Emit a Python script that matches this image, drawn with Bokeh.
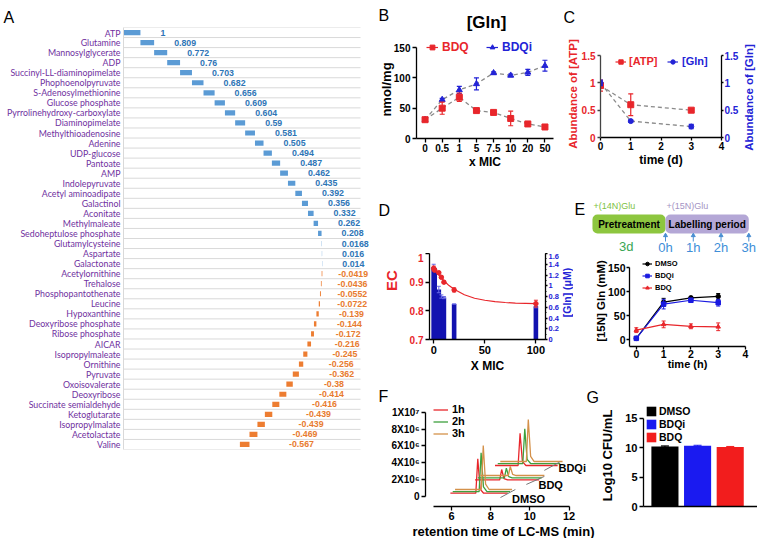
import math
import numpy as np
from bokeh.plotting import figure
from bokeh.models import (Range1d, FixedTicker, SingleIntervalTicker, LinearAxis, Label,
                          Legend, LegendItem)
from bokeh.layouts import row, column
from bokeh.embed import file_html
from bokeh.resources import INLINE
from bokeh.core.properties import value

FONT = "Liberation Sans"
RED = "#E8262B"
BLUE = "#2323D6"
GREY = "#8A8A8A"

# ---------------- data ----------------
a_names = ["ATP", "Glutamine", "Mannosylglycerate", "ADP", "Succinyl-LL-diaminopimelate",
           "Phophoenolpyruvate", "S-Adenosylmethionine", "Glucose phosphate",
           "Pyrrolinehydroxy-carboxylate", "Diaminopimelate", "Methylthioadenosine", "Adenine",
           "UDP-glucose", "Pantoate", "AMP", "Indolepyruvate", "Acetyl aminoadipate", "Galactinol",
           "Aconitate", "Methylmaleate", "Sedoheptulose phosphate", "Glutamylcysteine", "Aspartate",
           "Galactonate", "Acetylornithine", "Trehalose", "Phosphopantothenate", "Leucine",
           "Hypoxanthine", "Deoxyribose phosphate", "Ribose phosphate", "AICAR", "Isopropylmaleate",
           "Ornithine", "Pyruvate", "Oxoisovalerate", "Deoxyribose", "Succinate semialdehyde",
           "Ketoglutarate", "Isopropylmalate", "Acetolactate", "Valine"]
a_values = [1, 0.809, 0.772, 0.76, 0.703, 0.682, 0.656, 0.609, 0.604, 0.59, 0.581, 0.505, 0.494,
            0.487, 0.462, 0.435, 0.392, 0.356, 0.332, 0.262, 0.208, 0.0168, 0.016, 0.014, -0.0419,
            -0.0436, -0.0552, -0.0722, -0.139, -0.144, -0.172, -0.216, -0.245, -0.256, -0.362,
            -0.38, -0.414, -0.416, -0.439, -0.439, -0.469, -0.567]

b_xlabels = ["0", "0.5", "1", "5", "7.5", "10", "20", "50"]
b_bdq = [31, 50, 68, 46, 43, 33, 24, 19]
b_bdq_err = [2, 10, 7, 2, 3, 12, 1, 1]
b_bdqi = [31, 64, 80, 90, 108, 104, 109, 120]
b_bdqi_err = [2, 2, 6, 10, 2, 2, 5, 9]

c_time = [0, 1, 3]
c_atp = [0.95, 0.6, 0.5]
c_atp_err = [0.1, 0.2, 0.02]
c_gln = [1.0, 0.3, 0.2]
c_gln_err = [0.05, 0.02, 0.04]

d_bar_x = [0, 0.5, 1, 5, 7.5, 10, 20, 100]
d_bar_gln = [1.35, 1.33, 1.3, 0.93, 0.8, 0.78, 0.66, 0.62]
d_bar_err = [0.05, 0.0, 0.0, 0.06, 0.03, 0.02, 0.0, 0.03]
d_ec_x = [0, 1, 5, 7.5, 10, 20, 100]
d_ec = [0.948, 0.942, 0.933, 0.917, 0.9, 0.873, 0.825]
d_ec_err = [0.008, 0.004, 0.004, 0.004, 0.004, 0.007, 0.012]
d_fit_x = [0, 5, 10, 15, 20, 30, 40, 50, 60, 70, 80, 90, 100]
d_fit_ec = [0.948, 0.925, 0.905, 0.888, 0.875, 0.856, 0.844, 0.837, 0.832, 0.829, 0.827, 0.826, 0.825]

e_phases = ["Pretreatment", "Labelling period"]
e_phase_start = [-2.63, 0]
e_phase_end = [0, 3]
e_tracers = ["+(14N)Glu", "+(15N)Glu"]
e_timepoints = [0, 1, 2, 3]
e_tp_labels = ["0h", "1h", "2h", "3h"]
e_time = [0, 1, 2, 3]
e_dmso = [3, 78, 87, 90]
e_dmso_err = [1, 8, 3, 6]
e_bdqi = [3, 74, 82, 77]
e_bdqi_err = [1, 10, 4, 7]
e_bdq = [20, 32, 28, 27]
e_bdq_err = [5, 7, 5, 8]

f_groups = ["DMSO", "BDQ", "BDQi"]
f_times = ["1h", "2h", "3h"]
f_start = [[5.94, 6.06, 6.18], [7.20, 7.34, 7.47], [8.22, 8.36, 8.49]]
f_end = [[8.87, 8.99, 9.09], [10.48, 10.60, 10.74], [11.42, 11.55, 11.67]]
f_base = [[0.39, 0.59, 0.83], [1.98, 2.22, 2.49], [3.68, 3.91, 4.15]]      # x1e6
f_peak_x = [[7.34, 7.51, 7.62], [8.56, 8.80, 9.00], [9.50, 9.74, 9.92]]
f_peak_y = [[4.47, 5.18, 6.05], [3.20, 3.36, 3.56], [7.51, 8.03, 9.13]]    # x1e6
f_axis_x0 = [8.50, 9.82, 10.74]
f_axis_y0 = [-0.12, 1.43, 3.10]
f_axis_x1 = [9.26, 10.74, 11.52]
f_axis_y1 = [0.83, 2.38, 4.08]
f_label_x = [9.09, 10.44, 11.46]
f_label_y = [-0.30, 1.37, 3.39]

g_groups = ["DMSO", "BDQi", "BDQ"]
g_cfu = [10.2, 10.3, 10.1]
g_err = [0.1, 0.1, 0.1]


# ---------------- helpers ----------------
def plot_fig(x0, x1, y0, y1, frame, xr, yr):
    L, R, T, B = frame
    p = figure(width=x1 - x0, height=y1 - y0, x_range=Range1d(*xr), y_range=Range1d(*yr),
               output_backend="svg", toolbar_location=None, frame_align=False,
               min_border_left=L - x0, min_border_right=x1 - R,
               min_border_top=T - y0, min_border_bottom=y1 - B)
    p.outline_line_color = None
    p.background_fill_color = "white"
    p.border_fill_color = "white"
    for g in p.grid:
        g.visible = False
    return p


def head_fig(x0, x1, y0, y1, xr=None):
    p = figure(width=x1 - x0, height=y1 - y0,
               x_range=Range1d(*(xr if xr else (x0, x1))), y_range=Range1d(y1, y0),
               x_axis_type=None, y_axis_type=None, output_backend="svg",
               toolbar_location=None, frame_align=False, min_border_left=0, min_border_right=0,
               min_border_top=0, min_border_bottom=0)
    p.outline_line_color = None
    p.background_fill_color = "white"
    p.border_fill_color = "white"
    return p


def lab(p, x, y, text, size, color="black", bold=True, align="center", baseline="middle",
        angle=0.0, font=FONT):
    p.add_layout(Label(x=x, y=y, text=text, text_font=font, text_font_size=f"{size}px",
                       text_font_style="bold" if bold else "normal", text_color=color,
                       text_align=align, text_baseline=baseline, angle=angle))


def letter(p, x, y, text):
    lab(p, x, y, text, 16, bold=False, align="left", baseline="alphabetic")


def style_axis(ax, size=10, color="black", tick_out=4, standoff=2, line_color="black"):
    ax.axis_line_width = 1.3
    ax.axis_line_color = line_color
    ax.major_tick_line_width = 1.3
    ax.major_tick_line_color = line_color
    ax.major_tick_in = 0
    ax.major_tick_out = tick_out
    ax.minor_tick_line_color = None
    ax.minor_tick_in = 0
    ax.minor_tick_out = 0
    ax.major_label_text_font = FONT
    ax.major_label_text_font_style = "bold"
    ax.major_label_text_font_size = f"{size}px"
    ax.major_label_text_color = color
    ax.major_label_standoff = standoff


def axis_title(ax, text, size, color="black", standoff=0):
    ax.axis_label = text
    ax.axis_label_text_font = FONT
    ax.axis_label_text_font_style = "bold"
    ax.axis_label_text_font_size = f"{size}px"
    ax.axis_label_text_color = color
    ax.axis_label_standoff = standoff


def errbars(p, xs, ys, es, color, cap=5, width=1.2, **kw):
    xs = np.asarray(xs, float)
    ys = np.asarray(ys, float)
    es = np.asarray(es, float)
    r = p.segment(x0=xs, y0=ys - es, x1=xs, y1=ys + es, line_color=color, line_width=width, **kw)
    p.scatter(np.concatenate([xs, xs]), np.concatenate([ys - es, ys + es]), marker="dash",
              size=cap, line_color=color, line_width=width, **kw)
    return r


def legend(p, items, loc, size, color="black", gw=12, gh=10, spacing=0, standoff=4,
           orientation="vertical"):
    leg = Legend(items=[LegendItem(label=l, renderers=r) for l, r in items], location=loc,
                 orientation=orientation, padding=0, margin=0, spacing=spacing,
                 glyph_width=gw, glyph_height=gh, label_standoff=standoff,
                 label_height=gh, label_width=5, label_text_font=FONT,
                 label_text_font_style="bold", label_text_font_size=f"{size}px",
                 label_text_color=color, background_fill_alpha=0, border_line_alpha=0)
    p.add_layout(leg)


# ---------------- panel A ----------------
pA0 = head_fig(0, 375, 0, 27)
letter(pA0, 3, 17, "A")

a_px_per_unit = 16.93
A_FR = (123, 370, 27, 449)
pA = plot_fig(0, 375, 27, 538, A_FR, (0, (A_FR[1] - A_FR[0]) / a_px_per_unit), (41.5, -0.5))
pA.xaxis.visible = False
ya = pA.yaxis[0]
ya.ticker = FixedTicker(ticks=list(range(len(a_names))))
ya.major_label_overrides = {i: n for i, n in enumerate(a_names)}
ya.axis_line_color = "#D9D9D9"
ya.axis_line_width = 1
ya.major_tick_line_color = None
ya.minor_tick_line_color = None
ya.major_tick_in = 0
ya.major_tick_out = 0
ya.minor_tick_in = 0
ya.minor_tick_out = 0
ya.major_label_text_font = "Lato"
ya.major_label_text_font_size = "8.8px"
ya.major_label_text_color = "#7030A0"
ya.major_label_standoff = 3

vals = np.array(a_values, dtype=float)
rows = np.arange(len(vals))
ends = np.cumsum(vals)
starts = ends - vals
left = np.minimum(starts, ends)
right = np.maximum(starts, ends)
bounds = np.arange(len(vals) + 1) - 0.5
pA.segment(x0=0, x1=14, y0=bounds, y1=bounds, line_color="#D9D9D9", line_width=1)
pA.hbar(y=rows, left=left, right=right, height=0.52,
        fill_color=["#5B9BD5" if v > 0 else "#ED7D31" for v in vals], line_color=None)
off = np.where(vals > 0, 20 / a_px_per_unit, (14 + 45 * np.abs(vals)) / a_px_per_unit)
pA.text(x=right + off, y=rows, text=[str(v) for v in a_values], text_font=value(FONT),
        text_font_style=value("bold"), text_font_size=value("8.8px"),
        text_color=["#2E75B6" if v > 0 else "#E87B2E" for v in vals],
        text_baseline=value("middle"), text_align=value("left"))

# ---------------- panel B ----------------
pB0 = head_fig(375, 563, 0, 40)
letter(pB0, 378, 15, "B")
lab(pB0, 486, 22, "[Gln]", 17)

B_FR = (415, 553, 40, 138)
b_px = 91 / 150
pB = plot_fig(375, 563, 40, 180, B_FR, (-0.5, 7.5), (0, 150 + (47 - 40) / b_px))
bx = list(range(len(b_xlabels)))
pB.line(bx, b_bdqi, line_color=GREY, line_dash="4 3", line_width=1.3)
pB.line(bx, b_bdq, line_color=GREY, line_dash="4 3", line_width=1.3)
rbi_e = errbars(pB, bx, b_bdqi, b_bdqi_err, BLUE, cap=5)
rbi_s = pB.scatter(bx, b_bdqi, marker="triangle", size=6, color=BLUE)
rb_e = errbars(pB, bx, b_bdq, b_bdq_err, RED, cap=5)
rb_s = pB.scatter(bx, b_bdq, marker="square", size=6, color=RED)
style_axis(pB.xaxis[0], 10, standoff=1)
pB.xaxis[0].ticker = FixedTicker(ticks=bx)
pB.xaxis[0].major_label_overrides = {i: s for i, s in zip(bx, b_xlabels)}
axis_title(pB.xaxis[0], "x MIC", 12, standoff=0)
style_axis(pB.yaxis[0], 10)
pB.yaxis[0].ticker = FixedTicker(ticks=[0, 50, 100, 150])
pB.yaxis[0].bounds = (0, 150)
axis_title(pB.yaxis[0], "nmol/mg", 13, standoff=-3)
legend(pB, [("BDQ", [rb_e, rb_s])], (10, 84), 12, RED, gw=12, gh=12)
legend(pB, [("BDQi", [rbi_e, rbi_s])], (70, 84), 12, BLUE, gw=12, gh=12)

# ---------------- panel C ----------------
pC0 = head_fig(563, 757, 0, 30)
letter(pC0, 563, 17, "C")

C_FR = (600, 722, 50, 137)
c_px = 81.7 / 1.5
c_top = 1.5 + (55 - 50) / c_px
pC = plot_fig(563, 741, 30, 180, C_FR, (0, 4), (0, c_top))
pC.extra_y_ranges = {"gln": Range1d(0, c_top)}
pC.line(c_time, c_atp, line_color=GREY, line_dash="4 3", line_width=1.3)
pC.line(c_time, c_gln, line_color=GREY, line_dash="4 3", line_width=1.3, y_range_name="gln")
rc_e = errbars(pC, c_time, c_atp, c_atp_err, RED, cap=5)
rc_s = pC.scatter(c_time, c_atp, marker="square", size=6, color=RED)
rcg_e = errbars(pC, c_time, c_gln, c_gln_err, BLUE, cap=5, y_range_name="gln")
rcg_s = pC.scatter(c_time, c_gln, marker="circle", size=5, color=BLUE, y_range_name="gln")
style_axis(pC.xaxis[0], 10, tick_out=3, standoff=1)
pC.xaxis[0].ticker = FixedTicker(ticks=[0, 1, 2, 3, 4])
axis_title(pC.xaxis[0], "time (d)", 12, standoff=0)
style_axis(pC.yaxis[0], 10, RED, tick_out=3, line_color="#444444")
pC.yaxis[0].ticker = FixedTicker(ticks=[0, 0.5, 1.0, 1.5])
pC.yaxis[0].bounds = (0, 1.5)
axis_title(pC.yaxis[0], "Abundance of [ATP]", 11.5, RED, standoff=0)
axC = LinearAxis(y_range_name="gln", ticker=FixedTicker(ticks=[0, 0.5, 1.0, 1.5]))
style_axis(axC, 10, BLUE, tick_out=2, standoff=1)
axC.bounds = (0, 1.5)
pC.add_layout(axC, "right")
legend(pC, [("[ATP]", [rc_e, rc_s])], (15, 70), 11, RED, gw=11, gh=11, standoff=3)
legend(pC, [("[Gln]", [rcg_e, rcg_s])], (67, 70), 11, BLUE, gw=11, gh=11, standoff=4)
pCr = head_fig(741, 757, 30, 180)
lab(pCr, 748, 97, "Abundance of [Gln]", 11.5, BLUE, angle=math.pi / 2)

# ---------------- panel D ----------------
pD0 = head_fig(375, 573, 180, 253)
letter(pD0, 378, 210, "D")
pDl = head_fig(375, 400, 253, 375)
lab(pDl, 391, 280, "EC", 15, RED, angle=math.pi / 2)

D_FR = (429, 547, 253, 339)
pD = plot_fig(400, 561, 253, 375, D_FR, (-4.1, 109.4), (0.7, 1.0))
pD.extra_y_ranges = {"gln": Range1d(0, 1.6)}
pD.vbar(x=d_bar_x, top=d_bar_gln, bottom=0, width=4.5, fill_color="#1212B0", line_color=None,
        y_range_name="gln")
errbars(pD, d_bar_x, d_bar_gln, d_bar_err, "#6A6AE6", cap=4, width=1, y_range_name="gln")
pD.line(d_fit_x, d_fit_ec, line_color=RED, line_width=1.2)
errbars(pD, d_ec_x, d_ec, d_ec_err, RED, cap=4, width=1)
pD.scatter(d_ec_x, d_ec, marker="circle", size=4.5, color=RED)
style_axis(pD.xaxis[0], 11, standoff=2)
pD.xaxis[0].ticker = FixedTicker(ticks=[0, 50, 100])
axis_title(pD.xaxis[0], "X MIC", 12, standoff=2)
style_axis(pD.yaxis[0], 10, RED)
pD.yaxis[0].ticker = FixedTicker(ticks=[0.7, 0.8, 0.9, 1.0])
axD = LinearAxis(y_range_name="gln", ticker=SingleIntervalTicker(interval=0.2, num_minor_ticks=2))
style_axis(axD, 7.5, BLUE, tick_out=2, standoff=1)
axD.minor_tick_line_color = "black"
axD.minor_tick_out = 1
pD.add_layout(axD, "right")
pDr = head_fig(561, 573, 253, 375)
lab(pDr, 566.5, 292, "[Gln] (\u03bcM)", 10.5, BLUE, angle=math.pi / 2)

# ---------------- panel E (scheme) ----------------
e_pxh = 27.77
pE0 = head_fig(573, 757, 180, 255, xr=((573 - 665) / e_pxh, (757 - 665) / e_pxh))
letter(pE0, (574 - 665) / e_pxh, 209, "E")
pE0.quad(left=e_phase_start, right=e_phase_end, top=[214, 214], bottom=[233, 233],
         fill_color=["#8DC63F", "#B4A7D6"], line_color=None, border_radius=5)
pE0.segment(x0=e_timepoints, x1=e_timepoints, y0=[241] * 4, y1=[235] * 4,
            line_color="#4A8FD2", line_width=1)
pE0.scatter(e_timepoints, [235] * 4, marker="triangle", size=4, color="#4A8FD2")
for name, s, e in zip(e_phases, e_phase_start, e_phase_end):
    lab(pE0, (s + e) / 2, 223.5, name, 10)
for tr, s, col in zip(e_tracers, e_phase_start, ["#7DC242", "#A594C4"]):
    lab(pE0, s + 0.04, 205.5, tr, 9, col, bold=False, align="left")
lab(pE0, (e_phase_start[0] + e_phase_end[0]) / 2 - 0.1, 246, "3d", 13, "#3AA655", bold=False)
for t, tl in zip(e_timepoints, e_tp_labels):
    lab(pE0, t, 247, tl, 13, "#3E8ED8", bold=False)

# ---------------- panel E (plot) ----------------
E_FR = (629, 745, 255, 346)
e_px = (339.3 - 267) / 150
pE = plot_fig(573, 757, 255, 375, E_FR, (-0.25, 4),
              (-(346 - 339.3) / e_px, 150 + (267 - 255) / e_px))
series = [("DMSO", e_dmso, e_dmso_err, "black", "circle"),
          ("BDQi", e_bdqi, e_bdqi_err, "#1A1AE0", "square"),
          ("BDQ", e_bdq, e_bdq_err, RED, "triangle")]
e_items = []
for name, ys, es, col, mk in series:
    rl = pE.line(e_time, ys, line_color=col, line_width=1.2)
    errbars(pE, e_time, ys, es, col, cap=4, width=1)
    rs = pE.scatter(e_time, ys, marker=mk, size=4.5, color=col)
    e_items.append((name, [rl, rs]))
style_axis(pE.xaxis[0], 10.5, tick_out=3, standoff=0)
pE.xaxis[0].ticker = FixedTicker(ticks=[0, 1, 2, 3, 4])
axis_title(pE.xaxis[0], "time (h)", 11, standoff=-3)
style_axis(pE.yaxis[0], 10.5, tick_out=3, standoff=1)
pE.yaxis[0].ticker = FixedTicker(ticks=[0, 50, 100, 150])
pE.yaxis[0].bounds = (pE.y_range.start, 150)
axis_title(pE.yaxis[0], "[15N] Gln (mM)", 11.5, standoff=-2)
legend(pE, e_items, (13, 54), 7.5, "black", gw=10, gh=9, spacing=3, standoff=3)

# ---------------- row 3 header (F and G letters) ----------------
ROW3_TOP, HEAD3_BOTTOM = 375, 404
pH3 = head_fig(375, 757, ROW3_TOP, HEAD3_BOTTOM)
letter(pH3, 378, 396, "F")
letter(pH3, 586, 397, "G")

# ---------------- panel F ----------------
F_FR = (425, 597, HEAD3_BOTTOM, 506)
f_pxu = 19.58
f_py = 84.3 / 1e7
pF = plot_fig(375, 597, HEAD3_BOTTOM, 524, F_FR, (4.67, 4.67 + (597 - 425) / f_pxu),
              (-(506 - 496) / f_py, 1e7 + (411.7 - HEAD3_BOTTOM) / f_py))
f_colors = [RED, "#3DA03D", "#D4914A"]
f_items = []
for t, (tname, col) in enumerate(zip(f_times, f_colors)):
    xs_all, ys_all = [], []
    for g in range(len(f_groups)):
        s, e = f_start[g][t], f_end[g][t]
        b, top, px = f_base[g][t] * 1e6, f_peak_y[g][t] * 1e6, f_peak_x[g][t]
        xs_all.append([s, px - 0.1, px, px + 0.12, px + 0.3, e])
        ys_all.append([b, b, top, b + 0.12 * (top - b), b, b])
    r = pF.multi_line(xs_all, ys_all, line_color=col, line_width=1.3)
    f_items.append((tname, [r]))
pF.segment(x0=f_axis_x0, y0=[v * 1e6 for v in f_axis_y0], x1=f_axis_x1,
           y1=[v * 1e6 for v in f_axis_y1], line_color="#777777", line_width=1)
pF.text(x=f_label_x, y=[v * 1e6 for v in f_label_y], text=f_groups, text_font=value(FONT),
        text_font_size=value("11px"), text_font_style=value("bold"),
        text_align=value("left"), text_baseline=value("middle"))
style_axis(pF.xaxis[0], 11, tick_out=4, standoff=1)
pF.xaxis[0].ticker = FixedTicker(ticks=[6, 8, 10, 12])
pF.xaxis[0].bounds = (5.09, 12)
style_axis(pF.yaxis[0], 10, tick_out=4)
f_ticks = [0, 2000000, 4000000, 6000000, 8000000, 10000000]
pF.yaxis[0].ticker = FixedTicker(ticks=f_ticks)
pF.yaxis[0].major_label_overrides = {0: "0", 2000000: "2X10\u2076", 4000000: "4X10\u2076",
                                     6000000: "6X10\u2076", 8000000: "8X10\u2076",
                                     10000000: "1X10\u2077"}
pF.yaxis[0].bounds = (0, 1e7)
legend(pF, f_items, (8, 67), 11, "black", gw=15, gh=9, spacing=-2, standoff=4)
pFx = head_fig(375, 757, 524, 538)
lab(pFx, 503, 530.5, "retention time of LC-MS (min)", 13)

# ---------------- panel G ----------------
G_FR = (640, 757, HEAD3_BOTTOM, 506)
g_pxu = 33.5
g_py = (506 - 417.7) / 15
pG = plot_fig(597, 757, HEAD3_BOTTOM, 524, G_FR, ((640 - 662) / g_pxu, (757 - 662) / g_pxu),
              (0, 15 + (417.7 - HEAD3_BOTTOM) / g_py))
gx = list(range(len(g_groups)))
g_cols = ["black", "#1A1AF0", "#F21D1D"]
g_items = []
for i, (name, v, e, col) in enumerate(zip(g_groups, g_cfu, g_err, g_cols)):
    r = pG.vbar(x=[gx[i]], top=[v], bottom=0, width=0.83, fill_color=col, line_color=None)
    errbars(pG, [gx[i]], [v], [e], "black" if i == 0 else col, cap=8, width=1)
    g_items.append((name, [r]))
style_axis(pG.xaxis[0], 10, tick_out=0)
pG.xaxis[0].ticker = FixedTicker(ticks=[])
style_axis(pG.yaxis[0], 11)
pG.yaxis[0].ticker = FixedTicker(ticks=[0, 5, 10, 15])
pG.yaxis[0].bounds = (0, 15)
axis_title(pG.yaxis[0], "Log10 CFU/mL", 13, standoff=7)
legend(pG, g_items, (2, 63), 10.5, "black", gw=12, gh=12, spacing=1, standoff=2)

# ---------------- layout ----------------
colA = column(pA0, pA)
colB = column(pB0, pB)
colC = column(pC0, row(pC, pCr))
colD = column(pD0, row(pDl, pD, pDr))
colE = column(pE0, pE)
row3 = column(pH3, row(pF, pG), pFx)
right_col = column(row(colB, colC), row(colD, colE), row3)
layout = row(colA, right_col)
open("out.html", "w").write(file_html(layout, INLINE))
